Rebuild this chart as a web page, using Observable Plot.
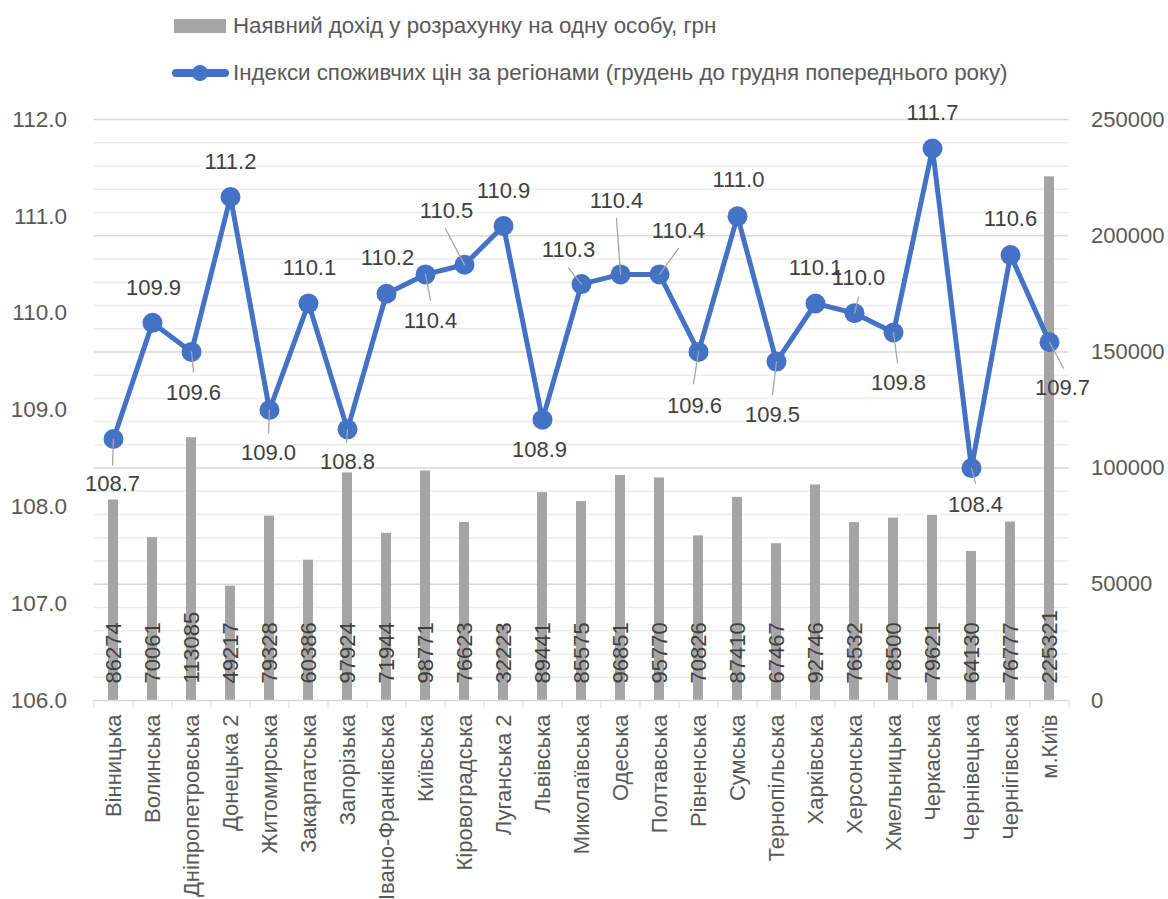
<!DOCTYPE html>
<html>
<head>
<meta charset="utf-8">
<script src="https://cdn.jsdelivr.net/npm/d3@7"></script>
<script src="https://cdn.jsdelivr.net/npm/@observablehq/plot@0.6"></script>
<style>
  html, body { margin: 0; padding: 0; background: #fff; overflow: hidden; }
  body { width: 1168px; height: 899px; font-family: "Liberation Sans", Arial, sans-serif; }
  #legend { position: relative; height: 100px; color: #595959; font-size: 22.3px; }
  .row { position: absolute; left: 170px; display: flex; align-items: center; height: 30px; white-space: nowrap; }
  .row svg { margin-right: 3px; }
  #chart svg { display: block; }
</style>
</head>
<body>
<div id="legend">
  <div class="row" style="top:11px">
    <svg width="60" height="20"><rect x="4" y="3" width="52" height="14" fill="#A5A5A5"></rect></svg>
    <span id="lg1"></span>
  </div>
  <div class="row" style="top:58px">
    <svg width="60" height="20"><line x1="6" y1="10" x2="55" y2="10" stroke="#4472C4" stroke-width="8" stroke-linecap="round"></line><circle cx="30" cy="10" r="8" fill="#4472C4"></circle></svg>
    <span id="lg2"></span>
  </div>
</div>
<div id="chart"></div>
<script>
const regions = ["Вінницька","Волинська","Дніпропетровська","Донецька 2","Житомирська","Закарпатська","Запорізька","Івано-Франківська","Київська","Кіровоградська","Луганська 2","Львівська","Миколаївська","Одеська","Полтавська","Рівненська","Сумська","Тернопільська","Харківська","Херсонська","Хмельницька","Черкаська","Чернівецька","Чернігівська","м.Київ"];
const income = [86274, 70061, 113085, 49217, 79328, 60386, 97924, 71944, 98771, 76623, 32223, 89441, 85575, 96851, 95770, 70826, 87410, 67467, 92746, 76532, 78500, 79621, 64130, 76777, 225321];
const cpi = [108.7, 109.9, 109.6, 111.2, 109.0, 110.1, 108.8, 110.2, 110.4, 110.5, 110.9, 108.9, 110.3, 110.4, 110.4, 109.6, 111.0, 109.5, 110.1, 110.0, 109.8, 111.7, 108.4, 110.6, 109.7];
const incomeName = "Наявний дохід у розрахунку на одну особу, грн";
const cpiName = "Індекси споживчих цін за регіонами (грудень до грудня попереднього року)";
const leftTicks = [106, 107, 108, 109, 110, 111, 112];
const rightTicks = [0, 50000, 100000, 150000, 200000, 250000];

// label placement (px offsets from point), like Excel's manual label positions
const labelOffsets = [[-1,45],[1,-35],[2,41],[0,-35],[-1,43],[1,-36],[0,33],[1,-36],[5,47],[-18,-54],[0,-35],[-3,30],[-13,-34],[-4,-73],[19,-43],[-4,54],[1,-36],[-4,53],[0,-36],[4,-35],[5,50],[0,-36],[4,37],[0,-36],[13,46]];
const leaderEnds = [[-1,26],null,[2,20],null,[-1,23],null,[-1,13],null,[5,26],[-19,-36],null,null,[-13,-16],[-4,-56],[19,-26],[-5,32],null,[-4,33],null,[4,-16],[4,30],null,[4,15],null,[14,26]];

document.getElementById("lg1").textContent = incomeName;
document.getElementById("lg2").textContent = cpiName;

const yMin = 106, yMax = 112, rMax = 250000;
const toLeft = v => yMin + v * (yMax - yMin) / rMax;
const fromLeft = v => (v - yMin) * rMax / (yMax - yMin);

const rows = regions.map((r, i) => ({region: r, income: income[i], cpi: cpi[i], i}));

const minor = d3.range(0, rMax + 1, 10000).filter(v => v % 50000 !== 0).map(toLeft);
const major = rightTicks.filter(v => v > 0).map(toLeft);

const spike = {draw(context, l) { context.moveTo(0, 0); context.lineTo(0, -l); }};
const FS = 22;

const labelMarks = rows.map((d, i) => Plot.text([d], {
  x: "region", y: "cpi", text: d => d.cpi.toFixed(1),
  dx: labelOffsets[i][0], dy: labelOffsets[i][1],
  fill: "#404040", fontSize: FS
}));
const leaderMarks = rows.filter((d, i) => leaderEnds[i]).map(d => {
  const [ox, oy] = leaderEnds[d.i];
  return Plot.vector([d], {
    x: "region", y: "cpi", anchor: "start",
    length: Math.hypot(ox, oy), rotate: Math.atan2(ox, -oy) * 180 / Math.PI,
    shape: spike, stroke: "#A6A6A6", strokeWidth: 1.3
  });
});

const chart = Plot.plot({
  width: 1168, height: 799,
  marginLeft: 93.5, marginRight: 99.5, marginTop: 19, marginBottom: 199,
  style: {fontFamily: "'Liberation Sans', Arial, sans-serif", fontSize: FS + "px", color: "#595959", background: "#fff"},
  x: {domain: regions, paddingInner: 0.74, paddingOuter: 0.37, axis: null},
  y: {domain: [yMin, yMax], axis: null},
  marks: [
    Plot.gridY(minor, {stroke: "#EDEDED", strokeOpacity: 1, strokeWidth: 1.5}),
    Plot.gridY(major, {stroke: "#D9D9D9", strokeOpacity: 1, strokeWidth: 1.5}),
    Plot.axisY(leftTicks, {anchor: "left", tickSize: 0, tickPadding: 27, tickFormat: d3.format(".1f"), label: null, fontSize: 22.5, color: "#595959"}),
    Plot.axisY(rightTicks.map(toLeft), {anchor: "right", tickSize: 0, tickPadding: 22, textAnchor: "start", tickFormat: v => String(Math.round(fromLeft(v))), label: null, fontSize: FS, color: "#595959"}),
    Plot.barY(rows, {x: "region", y1: () => yMin, y2: d => toLeft(d.income), fill: "#A5A5A5"}),
    Plot.ruleY([yMin], {stroke: "#D9D9D9", strokeWidth: 1.5}),
    Plot.axisX({tickSize: 8, tickFormat: () => "", dx: -19.5, stroke: "#D9D9D9", label: null}),
    Plot.axisX([regions[regions.length - 1]], {tickSize: 8, tickFormat: () => "", dx: 19.5, stroke: "#D9D9D9", label: null}),
    Plot.axisX({tickSize: 0, tickPadding: 14, tickRotate: -90, label: null, fontSize: FS, color: "#595959"}),
    Plot.text(rows, {x: "region", y: () => yMin, dy: -17, text: d => String(d.income), rotate: -90, textAnchor: "start", fill: "#404040", fontSize: FS}),
    Plot.line(rows, {x: "region", y: "cpi", stroke: "#4472C4", strokeWidth: 5, strokeLinejoin: "round"}),
    Plot.dot(rows, {x: "region", y: "cpi", r: 10, fill: "#4472C4", stroke: "none"}),
    ...leaderMarks,
    ...labelMarks
  ]
});
document.getElementById("chart").appendChild(chart);
</script>
</body>
</html>
